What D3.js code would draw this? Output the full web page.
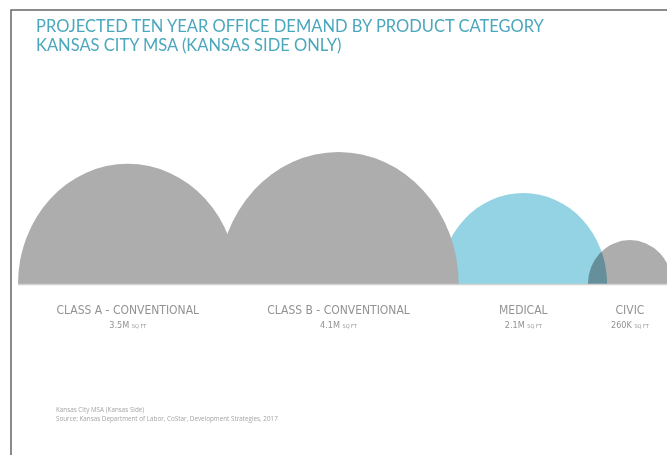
<!DOCTYPE html>
<html>
<head>
<meta charset="utf-8">
<script src="https://cdn.jsdelivr.net/npm/d3@7"></script>
<style>
  html, body { margin: 0; padding: 0; background: #fff; }
  svg { display: block; }
</style>
</head>
<body>
<svg id="chart" width="667" height="455"></svg>
<script>
// chart data
var categories = ["CLASS A - CONVENTIONAL", "CLASS B - CONVENTIONAL", "MEDICAL", "CIVIC"];
var demand = [3.5, 4.1, 2.1, 0.26];            // million sq ft
var demandLabels = ["3.5M", "4.1M", "2.1M", "260K"];
var highlight = [false, false, true, false];
var titleLines = ["PROJECTED TEN YEAR OFFICE DEMAND BY PRODUCT CATEGORY",
                  "KANSAS CITY MSA (KANSAS SIDE ONLY)"];
var notes = ["Kansas City MSA (Kansas Side)",
             "Source: Kansas Department of Labor, CoStar, Development Strategies, 2017"];

var svg = d3.select("#chart"),
    width = +svg.attr("width"),
    height = +svg.attr("height"),
    baseline = 284,
    left = 18,
    right = 672;

var grey = "#adadad",
    blue = "#94d3e3";

// frame
svg.append("path")
  .attr("d", "M11," + height + "V10H" + width)
  .attr("fill", "none")
  .attr("stroke", "#666")
  .attr("stroke-width", 1.5);

// title
svg.append("g").selectAll("text")
  .data(titleLines)
  .enter().append("text")
  .attr("x", 36)
  .attr("y", function(d, i) { return 32 + i * 19; })
  .attr("fill", "#4ba7bd")
  .attr("font-family", "Lato, 'Open Sans', sans-serif")
  .attr("font-size", 16.5)
  .text(function(d) { return d; });

var extent = d3.extent(demand);

// dome height and half width from demand
var ry = d3.scalePow().exponent(0.8).domain(extent).range([44, 132]);
var rx = d3.scalePow().exponent(0.8).domain(extent).range([42, 120]);

// lay the domes side by side with a small overlap, then fit to the width
var overlapShare = 0.027;
var domes = demand.map(function(v, i) {
  return { name: categories[i], value: v, label: demandLabels[i], hl: highlight[i],
           rx: rx(v), ry: ry(v) };
});
var total = d3.sum(domes, function(d) { return 2 * d.rx; });
var overlap = total * overlapShare;
var run = 0;
domes.forEach(function(d) {
  d.c = run + d.rx;
  run += 2 * d.rx - overlap;
});
run += overlap;

var x = d3.scaleLinear().domain([0, run]).range([left, right]);
var k = (right - left) / run;

function domePath(d) {
  var cx = x(d.c), a = d.rx * k, b = d.ry;
  return "M" + (cx - a) + "," + baseline +
         "A" + a + "," + b + " 0 0,1 " + (cx + a) + "," + baseline + "Z";
}

// medical sits behind the gray domes, civic is blended on top
var order = [2, 0, 1, 3];
svg.append("g").selectAll("path")
  .data(order.map(function(i) { return domes[i]; }))
  .enter().append("path")
  .attr("d", domePath)
  .attr("fill", function(d) { return d.hl ? blue : grey; })
  .style("mix-blend-mode", function(d) { return d.value === extent[0] ? "multiply" : null; });

svg.append("line")
  .attr("x1", left).attr("x2", width)
  .attr("y1", baseline + 0.5).attr("y2", baseline + 0.5)
  .attr("stroke", "#d2d2d2")
  .attr("stroke-width", 1.5);

// category labels
var lab = svg.append("g").selectAll("g")
  .data(domes)
  .enter().append("g")
  .attr("transform", function(d) { return "translate(" + x(d.c) + ",0)"; })
  .attr("font-family", "'DejaVu Sans Condensed', 'Roboto', sans-serif")
  .attr("fill", "#939393")
  .attr("text-anchor", "middle");

lab.append("text")
  .attr("y", 314)
  .attr("font-size", 12)
  .text(function(d) { return d.name; });

var val = lab.append("text")
  .attr("y", 328)
  .attr("font-size", 9)
  .text(function(d) { return d.label + " "; });
val.append("tspan").attr("font-size", 5.5).text("SQ FT");

// footnote
svg.append("g").selectAll("text")
  .data(notes)
  .enter().append("text")
  .attr("x", 56)
  .attr("y", function(d, i) { return 412 + i * 9; })
  .attr("fill", "#a5a5a5")
  .attr("font-family", "'Open Sans', sans-serif")
  .attr("font-size", 6.3)
  .text(function(d) { return d; });
</script>
</body>
</html>
